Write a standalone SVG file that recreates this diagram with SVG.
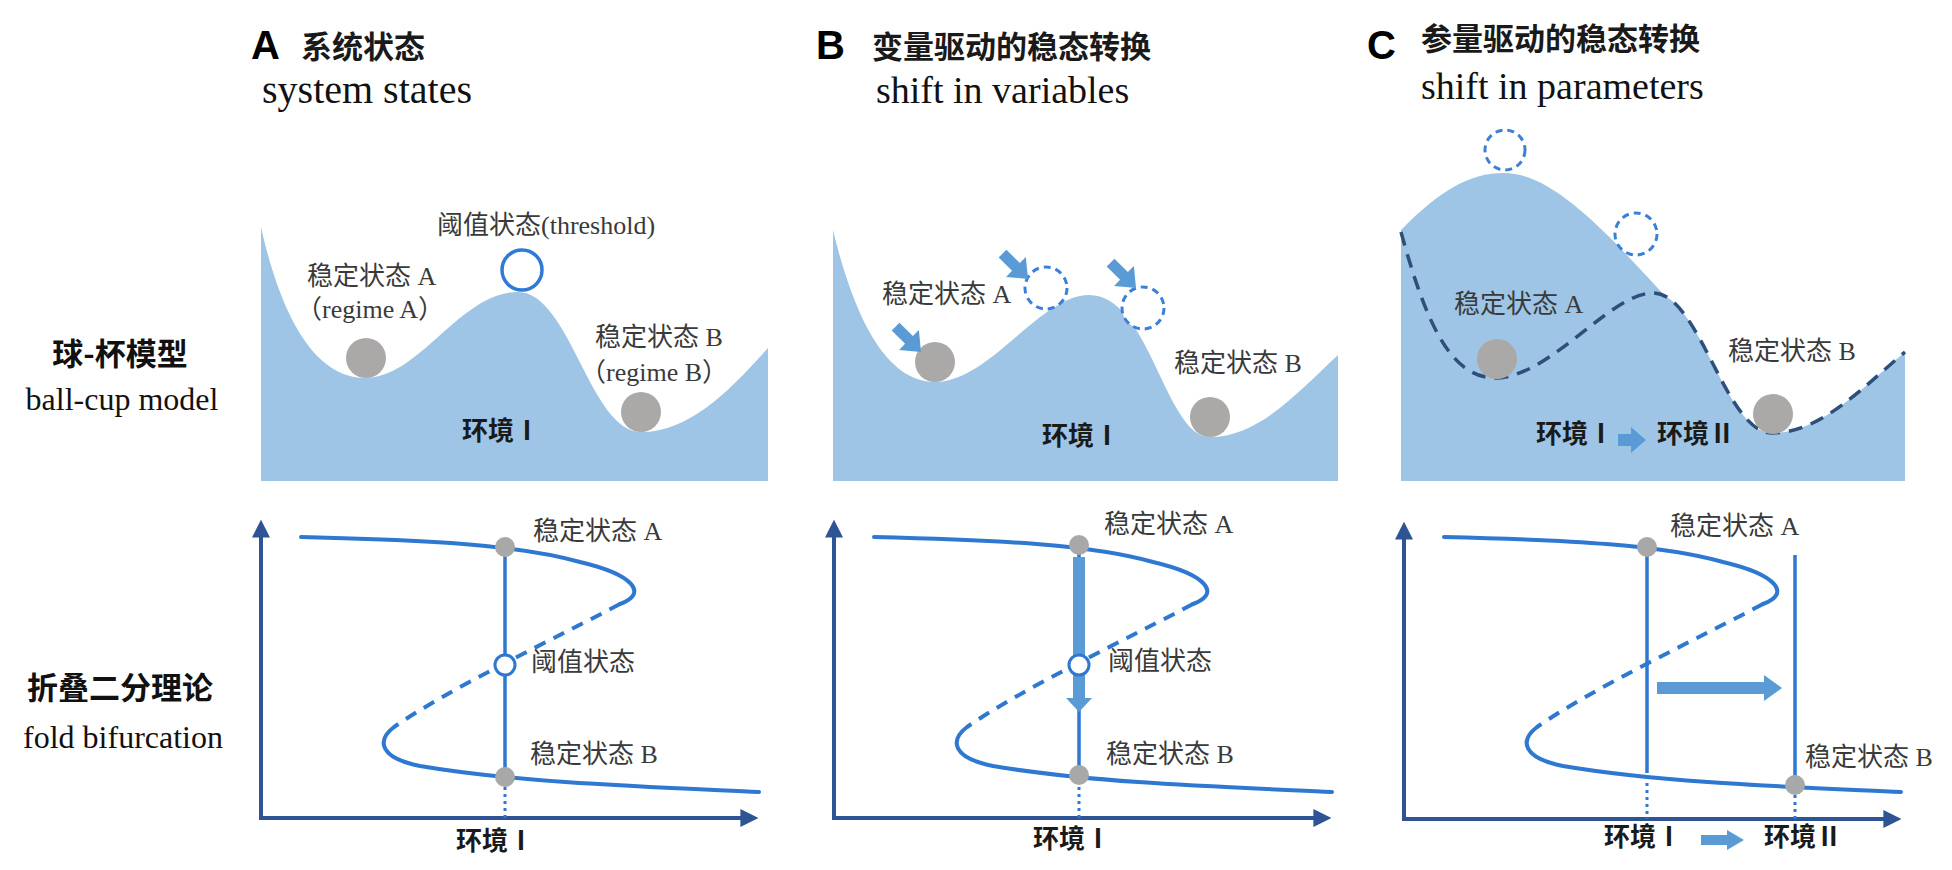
<svg xmlns="http://www.w3.org/2000/svg" width="1952" height="870" viewBox="0 0 1952 870">
<defs>
<style>
.ls{fill:#9ec5e6}
.ball{fill:#aba8a8}
.dc{fill:#fff;stroke:#3b80d8;stroke-width:3;stroke-dasharray:7 5}
.curve{fill:none;stroke:#2e78d2;stroke-width:4;stroke-linecap:round}
.dash{stroke-dasharray:12 9;stroke-linecap:butt}
.vl{stroke:#2e78d2;stroke-width:3.5;fill:none}
.dot{stroke:#2e78d2;stroke-width:3;stroke-dasharray:3 4;fill:none}
.axis{stroke:#2f5496;stroke-width:4;fill:none;marker-start:url(#ax);marker-end:url(#ax)}
.gd{fill:#a8a8a8}
.oc{fill:#fff;stroke:#2e78d2;stroke-width:3}
.arr{fill:#5b9bd5}
.lbl{font-family:"Liberation Serif","Noto Sans CJK SC",serif;font-size:26px;fill:#3a3a3a}
.env{font-family:"Liberation Serif","Noto Sans CJK SC",serif;font-size:26px;font-weight:bold;fill:#1a1a1a}
.hl{font-family:"Liberation Sans",Arial,sans-serif;font-weight:bold;font-size:40px;fill:#000}
.hc{font-family:"Noto Sans CJK SC",sans-serif;font-weight:bold;font-size:31px;fill:#1a1a1a}
.he{font-family:"Liberation Serif",serif;font-size:38px;fill:#111}
.rc{font-family:"Noto Sans CJK SC",sans-serif;font-weight:bold;font-size:31px;text-anchor:middle;fill:#111}
.re{font-family:"Liberation Serif",serif;font-size:32px;text-anchor:middle;fill:#111}
.cd{fill:none;stroke:#2d4f7a;stroke-width:3.5;stroke-dasharray:14 9}
</style>
<marker id="ax" viewBox="0 0 10 10" refX="7" refY="5" markerWidth="4.5" markerHeight="4.5" orient="auto-start-reverse"><path d="M0,0 L10,5 L0,10 z" fill="#2f5496"/></marker>
<path id="barr" d="M-36,-5.5 L-17,-5.5 L-17,-14 L0,0 L-17,14 L-17,5.5 L-36,5.5 Z"/>
</defs>
<rect width="1952" height="870" fill="#fff"/>

<!-- Headers -->
<g id="header-A">
<text class="hl" x="251" y="59">A</text>
<text class="hc" x="301" y="58">系统状态</text>
<text class="he" x="262" y="103" style="font-size:40px">system states</text>
</g>
<g id="header-B">
<text class="hl" x="816" y="59">B</text>
<text class="hc" x="872" y="58">变量驱动的稳态转换</text>
<text class="he" x="876" y="103">shift in variables</text>
</g>
<g id="header-C">
<text class="hl" x="1367" y="59">C</text>
<text class="hc" x="1421" y="50">参量驱动的稳态转换</text>
<text class="he" x="1421" y="99">shift in parameters</text>
</g>

<!-- Row labels -->
<g id="row-ballcup">
<text class="rc" x="120" y="365">球-杯模型</text>
<text class="re" x="122" y="410">ball-cup model</text>
</g>
<g id="row-fold">
<text class="rc" x="120" y="699">折叠二分理论</text>
<text class="re" x="123" y="748">fold bifurcation</text>
</g>

<!-- Panel A landscape -->
<g id="landscape-A">
<path class="ls" d="M261,227 C275,290 305,378 365,378 C420,378 460,292 518,292 C570,292 590,432 641,432 C690,432 730,390 768,348 L768,481 L261,481 Z"/>
<circle class="ball" cx="366" cy="358" r="20"/>
<circle class="ball" cx="641" cy="412" r="20"/>
<circle cx="522" cy="270" r="20" fill="#fff" stroke="#2f7ad6" stroke-width="3.5"/>
<text class="lbl" x="437" y="234">阈值状态(threshold)</text>
<text class="lbl" x="307" y="285">稳定状态 A</text>
<text class="lbl" x="296" y="318">（regime A）</text>
<text class="lbl" x="595" y="346">稳定状态 B</text>
<text class="lbl" x="580" y="381">（regime B）</text>
<text class="env" x="462" y="440">环境Ⅰ</text>
</g>

<!-- Panel B landscape -->
<g id="landscape-B">
<path class="ls" d="M833,230 C850,300 880,382 935,382 C990,382 1040,295 1089,295 C1150,295 1165,437 1210,437 C1260,437 1300,390 1338,355 L1338,481 L833,481 Z"/>
<circle class="ball" cx="935" cy="362" r="20"/>
<circle class="ball" cx="1210" cy="417" r="20"/>
<circle class="dc" cx="1046" cy="288" r="21"/>
<circle class="dc" cx="1143" cy="308" r="21"/>
<text class="lbl" x="882" y="303">稳定状态 A</text>
<text class="lbl" x="1174" y="372">稳定状态 B</text>
<text class="env" x="1042" y="445">环境Ⅰ</text>
</g>

<!-- Panel C landscape -->
<g id="landscape-C">
<path class="ls" d="M1401,230 C1440,190 1470,173 1504,173 C1550,173 1600,225 1666,297 L1666,481 L1401,481 Z"/>
<path class="ls" d="M1401,232 C1425,320 1450,378 1495,378 C1550,378 1610,293 1653,293 C1700,293 1725,433 1772,433 C1820,433 1860,390 1905,352 L1905,481 L1401,481 Z"/>
<path class="cd" d="M1401,232 C1425,320 1450,378 1495,378 C1550,378 1610,293 1653,293 C1700,293 1725,433 1772,433 C1820,433 1860,390 1905,352"/>
<circle class="dc" cx="1505" cy="150" r="20"/>
<circle class="dc" cx="1636" cy="234" r="21"/>
<circle class="ball" cx="1497" cy="359" r="20"/>
<circle class="ball" cx="1773" cy="414" r="20"/>
<text class="lbl" x="1454" y="313">稳定状态 A</text>
<text class="lbl" x="1728" y="360">稳定状态 B</text>
<text class="env" x="1536" y="443">环境Ⅰ</text>
<text class="env" x="1657" y="443">环境Ⅱ</text>
</g>

<!-- Bifurcation graphs: curves and labels -->
<g id="fold-A">
<path class="axis" d="M261,525 L261,818 L753,818"/>
<path class="curve" d="M301,537 C430,540 520,545 580,562 C635,575 648,594 620,604"/>
<path class="curve dash" d="M620,604 C560,636 450,688 394,727"/>
<path class="curve" d="M394,727 C376,741 380,758 420,766 C520,783 650,787 759,792"/>
<text class="lbl" x="533" y="540">稳定状态 A</text>
<text class="lbl" x="531" y="671">阈值状态</text>
<text class="lbl" x="530" y="763">稳定状态 B</text>
<text class="env" x="456" y="850">环境Ⅰ</text>
</g>
<g id="fold-B">
<path class="axis" d="M834,525 L834,818 L1326,818"/>
<path class="curve" d="M874,537 C1003,540 1093,545 1153,562 C1208,575 1221,594 1193,604"/>
<path class="curve dash" d="M1193,604 C1133,636 1023,688 967,727"/>
<path class="curve" d="M967,727 C949,741 953,758 993,766 C1093,783 1223,787 1332,792"/>
<text class="lbl" x="1104" y="533">稳定状态 A</text>
<text class="lbl" x="1108" y="670">阈值状态</text>
<text class="lbl" x="1106" y="763">稳定状态 B</text>
<text class="env" x="1033" y="848">环境Ⅰ</text>
</g>
<g id="fold-C">
<path class="axis" d="M1404,527 L1404,819 L1896,819"/>
<path class="curve" d="M1444,537 C1573,540 1663,545 1723,562 C1778,575 1791,594 1763,604"/>
<path class="curve dash" d="M1763,604 C1703,636 1593,688 1537,727"/>
<path class="curve" d="M1537,727 C1519,741 1523,758 1563,766 C1663,783 1793,787 1901,792"/>
<text class="lbl" x="1670" y="535">稳定状态 A</text>
<text class="lbl" x="1805" y="766">稳定状态 B</text>
<text class="env" x="1604" y="846">环境Ⅰ</text>
<text class="env" x="1764" y="846">环境Ⅱ</text>
</g>

<!-- Connectors: state transition lines and arrows -->
<g id="connectors">
<path class="vl" d="M505,547 L505,777"/>
<path class="dot" d="M505,780 L505,818"/>
<path class="vl" d="M1079,547 L1079,777"/>
<path class="dot" d="M1079,780 L1079,818"/>
<rect class="arr" x="1073" y="557" width="12" height="142"/>
<polygon class="arr" points="1066,698 1092,698 1079,712"/>
<use href="#barr" class="arr" transform="translate(921,352) rotate(45)"/>
<use href="#barr" class="arr" transform="translate(1028,279) rotate(45)"/>
<use href="#barr" class="arr" transform="translate(1136,288) rotate(45)"/>
<path class="vl" d="M1647,547 L1647,773"/>
<path class="dot" d="M1647,776 L1647,819"/>
<path class="vl" d="M1795,555 L1795,785"/>
<path class="dot" d="M1795,788 L1795,819"/>
<polygon class="arr" points="1657,682 1764,682 1764,675 1782,688 1764,701 1764,694 1657,694"/>
<polygon class="arr" points="1618,434 1631,434 1631,427 1646,440 1631,453 1631,446 1618,446"/>
<polygon class="arr" points="1701,835 1727,835 1727,830 1744,840 1727,850 1727,845 1701,845"/>
</g>

<!-- State points on bifurcation graphs -->
<g id="points">
<circle class="gd" cx="505" cy="547" r="10"/>
<circle class="gd" cx="505" cy="777" r="10"/>
<circle class="oc" cx="505" cy="665" r="10"/>
<circle class="gd" cx="1079" cy="545" r="10"/>
<circle class="gd" cx="1079" cy="775" r="10"/>
<circle class="oc" cx="1079" cy="665" r="10"/>
<circle class="gd" cx="1647" cy="547" r="10"/>
<circle class="gd" cx="1795" cy="785" r="10"/>
</g>
</svg>
